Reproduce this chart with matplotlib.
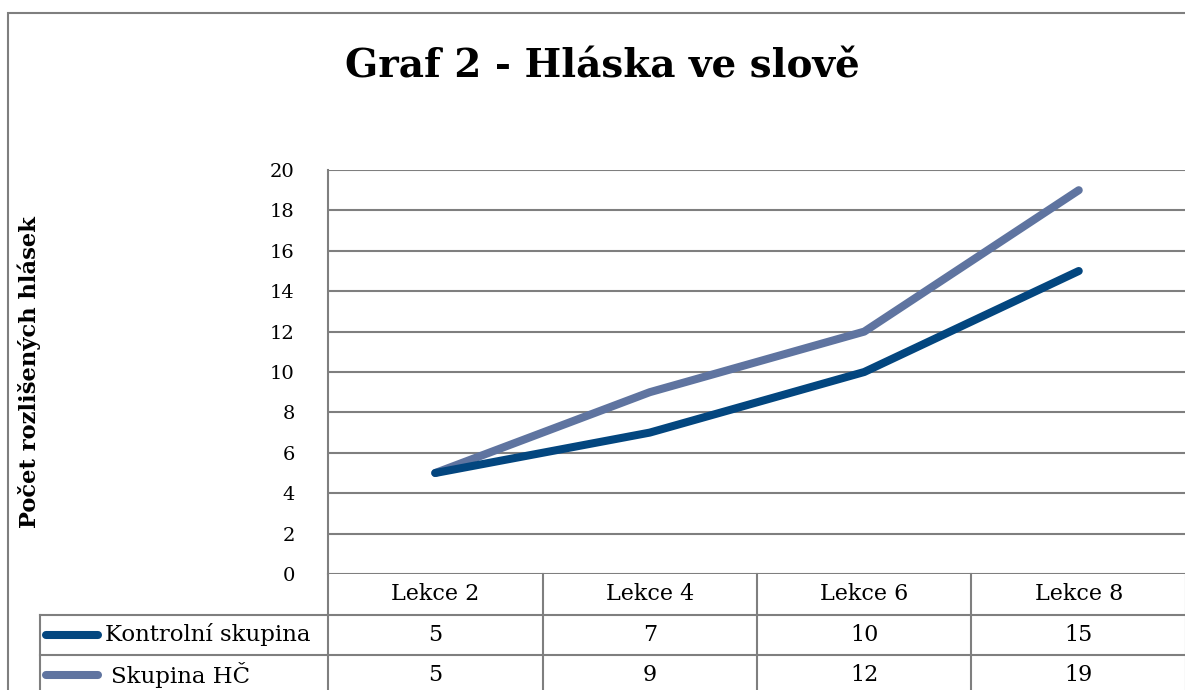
import matplotlib.pyplot as plt
import matplotlib.patches as mpatches

# Daten
lekce = ['Lekce 2', 'Lekce 4', 'Lekce 6', 'Lekce 8']
kontrolni = [5, 7, 10, 15]
skupina_hc = [5, 9, 12, 19]
serie_namen = ['Kontrolní skupina', 'Skupina HČ']
farben = ['#03467f', '#5f74a0']
y_ticks = list(range(0, 21, 2))

plt.rcParams['font.family'] = ['DejaVu Serif']

W, H = 1185, 690
fig = plt.figure(figsize=(W / 100, H / 100), dpi=100)

# Rahmen des Diagramms
fig.patches.append(mpatches.Rectangle((8 / W, -0.1), 1.2, (H - 13) / H + 0.1,
                                      transform=fig.transFigure, fill=False,
                                      edgecolor='#7f7f7f', linewidth=1.5))

ax_l, ax_b, ax_r, ax_t = 328, 574, 1186, 170
ax = fig.add_axes([ax_l / W, (H - ax_b) / H, (ax_r - ax_l) / W, (ax_b - ax_t) / H])
ax.set_xlim(-0.5, len(lekce) - 0.5)
ax.set_ylim(0, 20)
ax.set_yticks(y_ticks)
ax.set_yticklabels([str(v) for v in y_ticks], fontsize=14)
ax.tick_params(axis='y', length=0, pad=24)
ax.set_xticks([])
for s in ['top', 'right', 'bottom']:
    ax.spines[s].set_visible(False)
ax.spines['left'].set_color('#7f7f7f')
ax.spines['left'].set_linewidth(1.5)
for v in y_ticks:
    ax.axhline(v, color='#7f7f7f', linewidth=1.5, zorder=1)

x = range(len(lekce))
ax.plot(x, kontrolni, color=farben[0], linewidth=5.8, solid_capstyle='round',
        solid_joinstyle='round', zorder=3)
ax.plot(x, skupina_hc, color=farben[1], linewidth=5.8, solid_capstyle='round',
        solid_joinstyle='round', zorder=2)

ax.set_ylabel('Počet rozlišených hlásek', fontsize=16.3, fontweight='bold', labelpad=0)
ax.yaxis.set_label_coords((41 - ax_l) / (ax_r - ax_l), 0.5)

fig.text(602 / W, (H - 66) / H, 'Graf 2 - Hláska ve slově', ha='center', va='center',
         fontsize=28, fontweight='bold')

# Datentabelle unter dem Diagramm
px_w = ax_r - ax_l
px_h = ax_b - ax_t
row_h = 40.5 / px_h
label_x = (40 - ax_l) / px_w
col_w = 1.0 / len(lekce)
grau = '#7f7f7f'
kw = dict(transform=ax.transAxes, clip_on=False, color=grau, linewidth=1.5)

# horizontale Linien
ax.plot([label_x, 1], [-row_h, -row_h], **kw)
ax.plot([label_x, 1], [-2 * row_h, -2 * row_h], **kw)
ax.plot([label_x, 1], [-3 * row_h, -3 * row_h], **kw)
# vertikale Linien
ax.plot([label_x, label_x], [-row_h, -3.2 * row_h], **kw)
for i in range(len(lekce) + 1):
    ax.plot([i * col_w, i * col_w], [0, -3.2 * row_h], **kw)

for i, name in enumerate(lekce):
    ax.text((i + 0.5) * col_w, -0.5 * row_h, name, transform=ax.transAxes,
            ha='center', va='center', fontsize=16)

werte = [kontrolni, skupina_hc]
for r, (name, reihe) in enumerate(zip(serie_namen, werte)):
    yc = -(r + 1.5) * row_h
    ax.plot([(46 - ax_l) / px_w, (98 - ax_l) / px_w], [yc, yc], transform=ax.transAxes,
            clip_on=False, color=farben[r], linewidth=5.8, solid_capstyle='round')
    ax.text((105 + 6 * r - ax_l) / px_w, yc, name, transform=ax.transAxes,
            ha='left', va='center', fontsize=16.5)
    for i, v in enumerate(reihe):
        ax.text((i + 0.5) * col_w, yc, str(v), transform=ax.transAxes,
                ha='center', va='center', fontsize=16)

fig.savefig('out.png', dpi=100)
